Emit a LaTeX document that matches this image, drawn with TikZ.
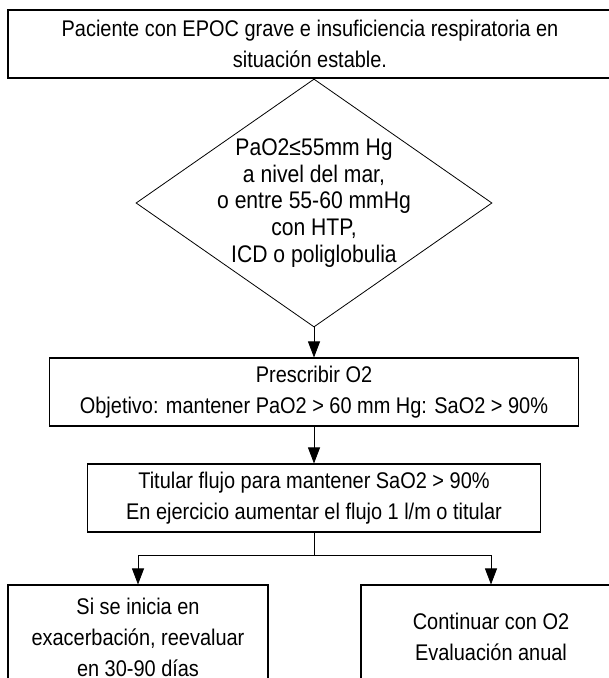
\documentclass[tikz,border=0pt]{standalone}
\usepackage{fontspec}
\setmainfont{Liberation Sans}[FakeStretch=0.88]
\usetikzlibrary{shapes.geometric,arrows.meta}

\tikzset{
  caja/.style={draw, rectangle, line width=0.8pt, align=center, inner sep=0pt, font=\fontsize{17}{23.25}\selectfont},
  rombo/.style={draw, diamond, line width=0.6pt, inner sep=0pt, minimum width=267pt, minimum height=186pt},
  flecha/.style={line width=0.6pt, -{Triangle[length=12pt,width=9pt]}},
}

\begin{document}
\begin{tikzpicture}[x=0.75pt,y=-0.75pt]
\useasboundingbox (0,0) rectangle (609,678);

% Cajas del algoritmo
\node[caja, minimum width=453pt, minimum height=51pt] (inicio) at (310,44) {Paciente con EPOC grave e insuficiencia respiratoria en\\situación estable.};

\node[rombo] (cond) at (314,203) {};
\node[align=center, inner sep=0pt, font=\fontsize{18}{20}\selectfont] (condtxt) at (cond.center) {PaO2≤55mm Hg\\a nivel del mar,\\o entre 55-60 mmHg\\con HTP,\\ICD o poliglobulia};

\node[caja, minimum width=396.75pt, minimum height=51pt] (prescribir) at (314,392) {Prescribir O2\\Objetivo: mantener PaO2 > 60 mm Hg: SaO2 > 90\%};
\node[caja, minimum width=339.75pt, minimum height=51pt] (titular) at (314,498) {Titular flujo para mantener SaO2 > 90\%\\En ejercicio aumentar el flujo 1 l/m o titular};

\node[caja, minimum width=195pt, minimum height=78pt] (reevaluar) at (138,637) {Si se inicia en\\exacerbación, reevaluar\\en 30-90 días};
\node[caja, minimum width=195pt, minimum height=78pt] (anual) at (491,637) {Continuar con O2\\Evaluación anual};

% Flechas
\coordinate (rama) at (314,555);
\draw[flecha] (cond.south) -- (prescribir.north);
\draw[flecha] (prescribir.south) -- (titular.north);
\draw[line width=0.6pt] (titular.south) -- (rama);
\draw[flecha] (rama) -| (reevaluar.north);
\draw[flecha] (rama) -| (anual.north);

\end{tikzpicture}
\end{document}
